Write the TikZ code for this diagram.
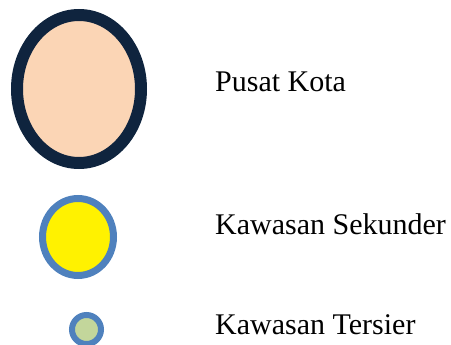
\documentclass[tikz,border=0pt]{standalone}
\usepackage{fontspec}
\setmainfont{Liberation Serif}
\definecolor{peach}{HTML}{FBD5B5}
\definecolor{navy}{HTML}{0F243E}
\definecolor{ringblue}{HTML}{4F81BD}
\definecolor{sage}{HTML}{C3D69B}
\begin{document}
\begin{tikzpicture}[x=1pt,y=-1pt,
  label/.style={anchor=base west, inner sep=0pt, font=\fontsize{30}{36}\selectfont}]
\useasboundingbox (0,0) rectangle (451,345);
% city centre
\draw[navy, line width=12pt, fill=peach] (79,89) ellipse [x radius=62, y radius=74];
\node[label] (pusat) at (215,92) {Pusat Kota};
% secondary area
\draw[ringblue, line width=7pt, fill=yellow] (78,237) ellipse [x radius=35.5, y radius=38.5];
\node[label] (sekunder) at (215,235) {Kawasan Sekunder};
% tertiary area
\draw[ringblue, line width=6pt, fill=sage] (86.5,329.5) circle [radius=14.5];
\node[label] (tersier) at (215,335) {Kawasan Tersier};
\end{tikzpicture}
\end{document}
